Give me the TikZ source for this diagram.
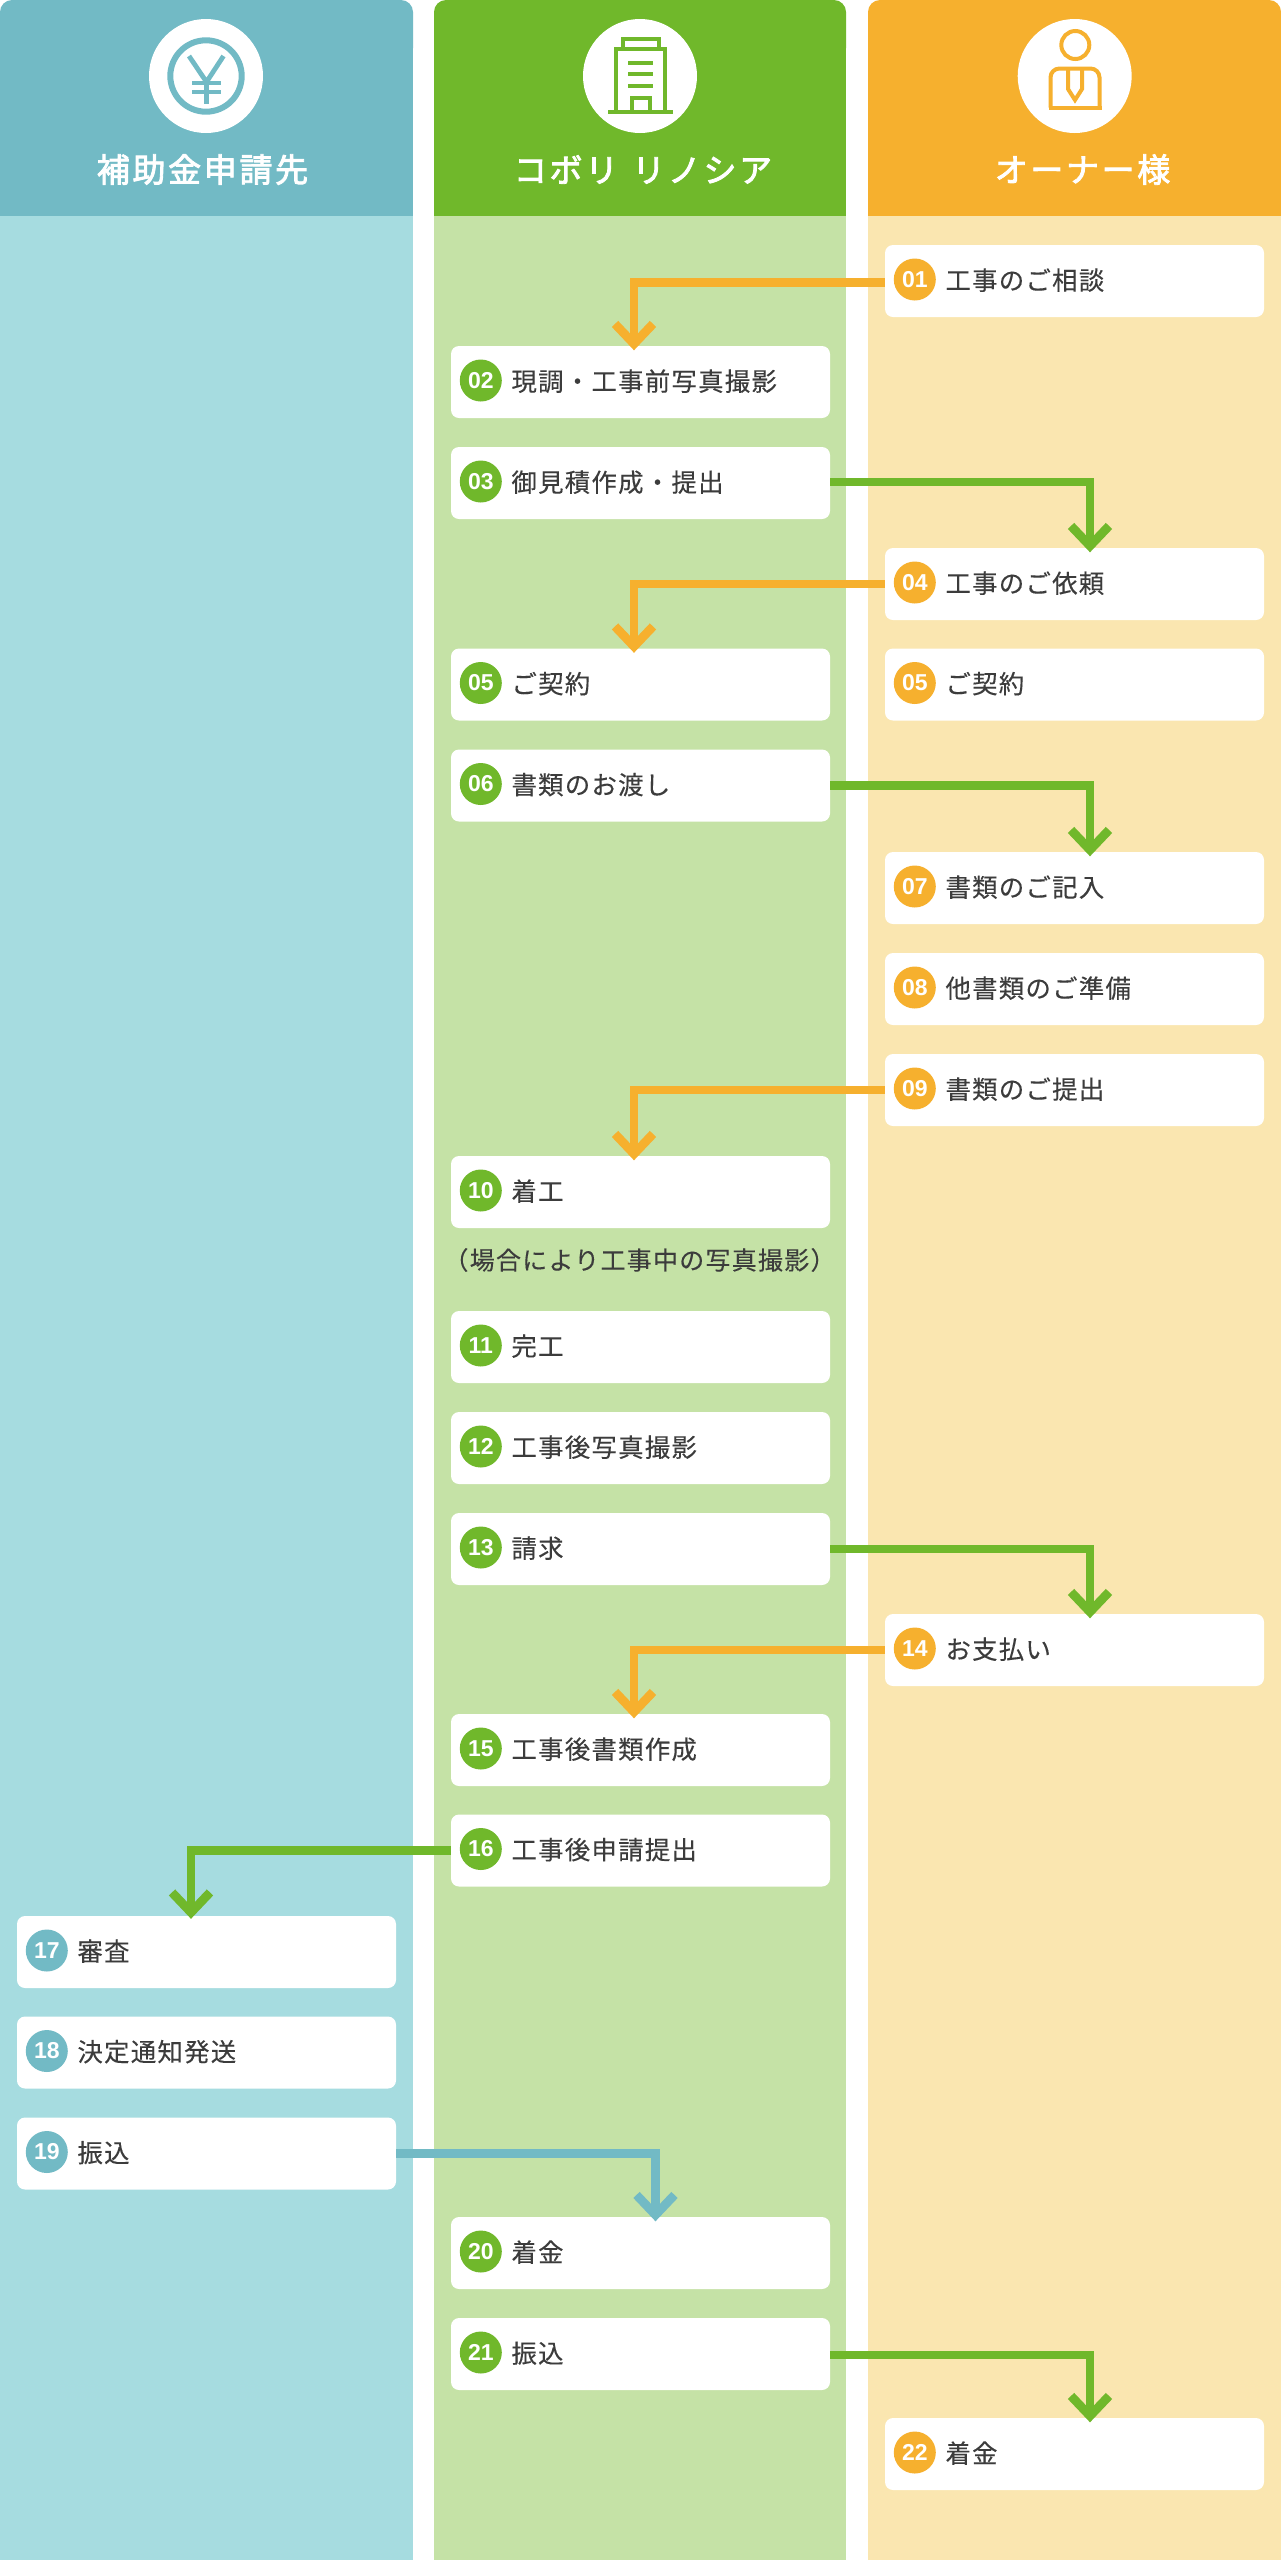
\documentclass[tikz,border=0pt]{standalone}
\usepackage{fontspec}
\usetikzlibrary{arrows.meta}
\setmainfont{Noto Sans CJK JP}
\newfontfamily\cjkbody{Noto Sans CJK JP}[LetterSpace=5,FakeBold=0.2]
\newfontfamily\cjkhead{Noto Sans CJK JP}[LetterSpace=8,FakeBold=2.6]
\newfontfamily\numfont{Liberation Sans}
\definecolor{tealH}{HTML}{72BAC5}
\definecolor{tealL}{HTML}{A6DCE0}
\definecolor{greenH}{HTML}{70B82B}
\definecolor{greenL}{HTML}{C5E2A6}
\definecolor{orangeH}{HTML}{F6B02E}
\definecolor{orangeL}{HTML}{FAE6B0}
\definecolor{ink}{HTML}{3C3C3C}
\tikzset{
  cardbox/.style={fill=white,rounded corners=8pt,minimum height=72pt,text width=379pt,inner sep=0pt,
    align=left,text=ink,font=\cjkbody\fontsize{25.4pt}{30pt}\selectfont,text height=0.88em,text depth=0.12em},
  badge/.style={circle,minimum size=42pt,inner sep=0pt,text=white,font=\numfont\bfseries\fontsize{23pt}{26pt}\selectfont},
  headlabel/.style={text=white,inner sep=0pt,font=\cjkhead\fontsize{33pt}{38pt}\selectfont},
  notelabel/.style={inner sep=0pt,text=ink,font=\cjkbody\fontsize{25pt}{30pt}\selectfont},
  whitedisc/.style={circle,fill=white,minimum size=114pt,inner sep=0pt},
  flow/.style={draw=#1,line width=8.8pt,line join=miter,
    -{Straight Barb[sharp,length=20pt,width=38pt,line width=8.8pt]}},
  iconline/.style={draw=#1,line width=4pt},
}
% name, x, y, colour, number, text
\newcommand{\stepcard}[6]{%
  \node[cardbox] (c#1) at (#2,#3) {\hspace*{60.5pt}\raisebox{-5pt}{#6}};
  \node[badge,fill=#4] (b#1) at ([xshift=30pt,yshift=1.5pt]c#1.west) {#5};
}
\begin{document}
\begin{tikzpicture}[x=1pt,y=-1pt]
\useasboundingbox (0,0) rectangle (1281,2560);
\fill[white] (0,0) rectangle (1281,2560);
% columns
\fill[tealL] (0,216) rectangle (413,2560);
\fill[greenL] (434,216) rectangle (846,2560);
\fill[orangeL] (868,216) rectangle (1281,2560);
\fill[tealH,rounded corners=12pt] (0,0) rectangle (413,60);
\fill[tealH] (0,30) rectangle (413,216);
\fill[greenH,rounded corners=12pt] (434,0) rectangle (846,60);
\fill[greenH] (434,30) rectangle (846,216);
\fill[orangeH,rounded corners=12pt] (868,0) rectangle (1281,60);
\fill[orangeH] (868,30) rectangle (1281,216);
% header discs and labels
\node[whitedisc] (discA) at (206,76) {};
\node[whitedisc] (discB) at (640,76) {};
\node[whitedisc] (discC) at (1074.7,76) {};
\node[headlabel] (headA) at (202.5,169.5) {補助金申請先};
\node[headlabel] (headB) at (643,169.5) {コボリ\hspace{4pt} リノシア};
\node[headlabel] (headC) at (1082.5,169.5) {オーナー様};
% yen icon
\draw[tealH,line width=6pt] (206,76) circle[radius=35.7pt];
\draw[tealH,line width=4.8pt,line join=miter] (189,56) -- (206.5,82) -- (223.5,56);
\draw[tealH,line width=4.8pt] (206.5,80) -- (206.5,104);
\draw[tealH,line width=4.8pt] (192,83) -- (221,83);
\draw[tealH,line width=4.8pt] (192,92) -- (221,92);
% building icon
\begin{scope}[iconline=greenH]
\draw (622.7,49.3) -- (622.7,39.3) -- (658.7,39.3) -- (658.7,49.3);
\draw (616,111.7) -- (616,49.3) -- (664.7,49.3) -- (664.7,111.7);
\draw (628,62.7) -- (652.7,62.7);
\draw (628,74.3) -- (652.7,74.3);
\draw (628,86) -- (652.7,86);
\draw (631.7,111.7) -- (631.7,98.3) -- (650,98.3) -- (650,111.7);
\draw (608,111.7) -- (672.7,111.7);
\end{scope}
% person icon
\begin{scope}[iconline=orangeH]
\draw (1075.3,45) circle[radius=14pt];
\draw[rounded corners=9pt] (1050.5,107.5) -- (1050.5,68.5) -- (1099.5,68.5) -- (1099.5,107.5);
\draw (1048.5,107.5) -- (1101.5,107.5);
\draw[line join=miter] (1068,68.5) -- (1068,89) -- (1075,100) -- (1082,89) -- (1082,68.5);
\end{scope}
% left column
\stepcard{l17}{206.5}{1952}{tealH}{17}{審査}
\stepcard{l18}{206.5}{2052.5}{tealH}{18}{決定通知発送}
\stepcard{l19}{206.5}{2153.5}{tealH}{19}{振込}
% middle column
\stepcard{m02}{640.5}{382}{greenH}{02}{現調・工事前写真撮影}
\stepcard{m03}{640.5}{483}{greenH}{03}{御見積作成・提出}
\stepcard{m05}{640.5}{684.5}{greenH}{05}{ご契約}
\stepcard{m06}{640.5}{785.5}{greenH}{06}{書類のお渡し}
\stepcard{m10}{640.5}{1192}{greenH}{10}{着工}
\node[notelabel] (note) at (639.5,1260) {（場合により工事中の写真撮影）};
\stepcard{m11}{640.5}{1347}{greenH}{11}{完工}
\stepcard{m12}{640.5}{1448}{greenH}{12}{工事後写真撮影}
\stepcard{m13}{640.5}{1549}{greenH}{13}{請求}
\stepcard{m15}{640.5}{1750}{greenH}{15}{工事後書類作成}
\stepcard{m16}{640.5}{1850.5}{greenH}{16}{工事後申請提出}
\stepcard{m20}{640.5}{2253}{greenH}{20}{着金}
\stepcard{m21}{640.5}{2354}{greenH}{21}{振込}
% owner column
\stepcard{o01}{1074.5}{281}{orangeH}{01}{工事のご相談}
\stepcard{o04}{1074.5}{584}{orangeH}{04}{工事のご依頼}
\stepcard{o05}{1074.5}{684.5}{orangeH}{05}{ご契約}
\stepcard{o07}{1074.5}{888}{orangeH}{07}{書類のご記入}
\stepcard{o08}{1074.5}{989}{orangeH}{08}{他書類のご準備}
\stepcard{o09}{1074.5}{1090}{orangeH}{09}{書類のご提出}
\stepcard{o14}{1074.5}{1650}{orangeH}{14}{お支払い}
\stepcard{o22}{1074.5}{2454}{orangeH}{22}{着金}
% connectors
\draw[flow=orangeH] ([yshift=-1.5pt]co01.west) -| ([xshift=-6.5pt,yshift=-4.5pt]cm02.north);
\draw[flow=greenH] ([yshift=1pt]cm03.east) -| ([xshift=15.5pt,yshift=-4.5pt]co04.north);
\draw[flow=orangeH] (co04.west) -| ([xshift=-6.5pt,yshift=-4.5pt]cm05.north);
\draw[flow=greenH] (cm06.east) -| ([xshift=15.5pt,yshift=-4.5pt]co07.north);
\draw[flow=orangeH] (co09.west) -| ([xshift=-6.5pt,yshift=-4.5pt]cm10.north);
\draw[flow=greenH] (cm13.east) -| ([xshift=15.5pt,yshift=-4.5pt]co14.north);
\draw[flow=orangeH] (co14.west) -| ([xshift=-6.5pt,yshift=-4.5pt]cm15.north);
\draw[flow=greenH] (cm16.west) -| ([xshift=-15.5pt,yshift=-3pt]cl17.north);
\draw[flow=tealH] (cl19.east) -| ([xshift=15pt,yshift=-4.5pt]cm20.north);
\draw[flow=greenH] ([yshift=-1pt]cm21.east) -| ([xshift=15.5pt,yshift=-4.5pt]co22.north);
\end{tikzpicture}
\end{document}
